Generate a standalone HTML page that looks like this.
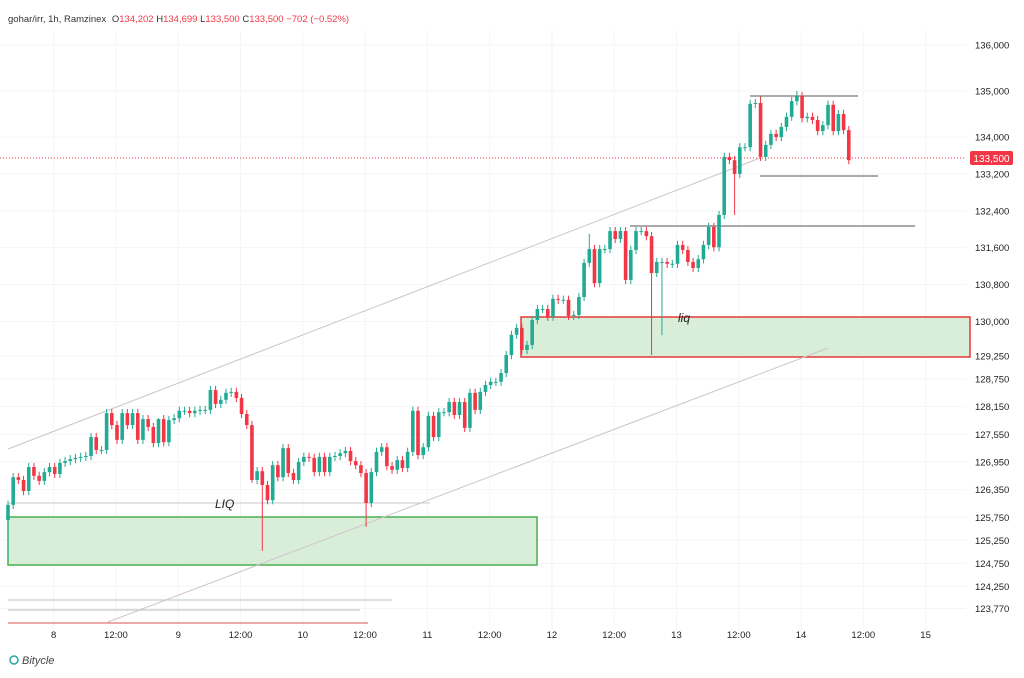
<!DOCTYPE html>
<html><head><meta charset="utf-8">
<style>
html,body{margin:0;padding:0;background:#fff;}
body{width:1024px;height:673px;overflow:hidden;font-family:"Liberation Sans",sans-serif;}
svg text{font-family:"Liberation Sans",sans-serif;}
</style></head>
<body>
<svg id="chart" width="1024" height="673" viewBox="0 0 1024 673" xmlns="http://www.w3.org/2000/svg">
  <g id="grid"></g>
  <g id="drawings-back">
    <rect x="8" y="517" width="529" height="48" fill="#d8eed9" stroke="#4caf50" stroke-width="1.5"/>
    <rect x="521" y="317" width="449" height="40" fill="#d8eed9" stroke="#e53935" stroke-width="1.5"/>
    <line x1="8" y1="449" x2="760" y2="158" stroke="#cfc3cc" stroke-width="1"/>
    <line x1="108" y1="622" x2="828" y2="348" stroke="#cfc3cc" stroke-width="1"/>
    <line x1="8" y1="503" x2="430" y2="503" stroke="#c8c8c8" stroke-width="1"/>
    <text x="215" y="508" font-size="12" font-style="italic" fill="#222">LIQ</text>
    <text x="678" y="322" font-size="12" font-style="italic" fill="#222">liq</text>
    <line x1="8" y1="600" x2="392" y2="600" stroke="#b9c4bb" stroke-width="1"/>
    <line x1="8" y1="610" x2="360" y2="610" stroke="#b9b9b9" stroke-width="1"/>
    <line x1="8" y1="623" x2="368" y2="623" stroke="#e57373" stroke-width="1.2"/>
    <line x1="630" y1="226" x2="915" y2="226" stroke="#555" stroke-width="1"/>
    <line x1="750" y1="96" x2="858" y2="96" stroke="#555" stroke-width="1"/>
    <line x1="760" y1="176" x2="878" y2="176" stroke="#555" stroke-width="1"/>
    <line x1="0" y1="158" x2="966" y2="158" stroke="#f23645" stroke-width="1" stroke-dasharray="1,2"/>
  </g>
  <g id="candles"></g>
  <g id="yaxis"></g>
  <g id="xaxis"></g>
  <rect x="970" y="151" width="43" height="14" rx="2" fill="#f23645"/>
  <text x="991.5" y="162" font-size="10" fill="#fff" text-anchor="middle">133,500</text>
  <text x="8" y="22" font-size="9.5" fill="#333">gohar/irr, 1h, Ramzinex <tspan dx="3">O</tspan><tspan fill="#f23645">134,202</tspan> H<tspan fill="#f23645">134,699</tspan> L<tspan fill="#f23645">133,500</tspan> C<tspan fill="#f23645">133,500</tspan> <tspan fill="#f23645">−702 (−0.52%)</tspan></text>
  <g>
    <circle cx="14" cy="660" r="4" fill="none" stroke="#2aa6a0" stroke-width="1.5"/>
    <text x="22" y="664" font-size="11" font-style="italic" fill="#444">Bitycle</text>
  </g>
</svg>
<script>
const closes=[126020,126620,126560,126320,126840,126650,126540,126730,126840,126690,126930,126970,127010,127040,127060,127080,127490,127210,127210,128010,127750,127430,128010,127750,128010,127430,127880,127710,127360,127880,127380,127860,127900,128060,128060,128010,128060,128080,128080,128510,128210,128300,128450,128470,128340,127990,127750,126560,126750,126450,126120,126880,126620,127250,126710,126560,126950,127060,127040,126730,127060,126730,127060,127080,127140,127190,126970,126880,126710,126060,126730,127170,127270,126860,126780,126990,126820,127170,128060,127100,127270,127950,127490,128030,128030,128250,127970,128250,127690,128450,128080,128470,128620,128690,128690,128880,129270,129710,129860,129380,129490,130030,130270,130270,130100,130490,130470,130470,130120,130140,130530,131270,131570,130830,131570,131570,131960,131790,131960,130900,131550,131960,131960,131850,131050,131290,131290,131250,131250,131660,131550,131290,131160,131350,131660,132050,131610,132310,133570,133500,133200,133780,133780,134720,134740,133570,133830,134070,134000,134220,134440,134780,134890,134410,134440,134370,134130,134260,134700,134130,134500,134150,133500];
const firstOpen=125690;
const wickIndex=[0,47,49,69,124,126,140,152,145,29,112];
const wickHigh=[null,null,null,null,null,null,null,135000,134880,127900,131900];
const wickLow=[124820,126500,125020,125540,129270,129700,132310,null,null,null,null];
const wickDefault=90;
const yTickValues=[136000,135000,134000,133200,132400,131600,130800,130000,129250,128750,128150,127550,126950,126350,125750,125250,124750,124250,123770];
const xTickLabels=["8","12:00","9","12:00","10","12:00","11","12:00","12","12:00","13","12:00","14","12:00","15"];
const firstTickHour=8.8;
const hoursPerTick=12;

const NS="http://www.w3.org/2000/svg";
function y(p){return 91+(135000-p)/21.7;}
function x(i){return 8+i*5.19;}
function mk(tag,attrs,parent){const e=document.createElementNS(NS,tag);for(const k in attrs)e.setAttribute(k,attrs[k]);parent.appendChild(e);return e;}

const grid=document.getElementById('grid');
const ya=document.getElementById('yaxis');
yTickValues.forEach(v=>{
  const yy=y(v);
  const gl=mk('line',{x1:0,x2:966,y1:yy,y2:yy,stroke:'#f4f5f8','stroke-width':1},grid);
  
  
  const t=mk('text',{x:975,y:yy+3.5,'font-size':9.5,fill:'#222'},ya);
  
  
  t.textContent=v.toLocaleString('en-US');
});
const xa=document.getElementById('xaxis');
xTickLabels.forEach((lab,k)=>{
  const xx=x(firstTickHour+k*hoursPerTick);
  const gl=mk('line',{x1:xx,x2:xx,y1:30,y2:630,stroke:'#f4f5f8','stroke-width':1},grid);
  
  
  const t=mk('text',{x:xx,y:638,'font-size':9.5,fill:'#222','text-anchor':'middle'},xa);
  
  
  t.textContent=lab;
});

const cg=document.getElementById('candles');
closes.forEach((c,i)=>{
  const o=i===0?firstOpen:closes[i-1];
  let hi=Math.max(o,c)+wickDefault, lo=Math.min(o,c)-wickDefault;
  const wi=wickIndex.indexOf(i);
  if(wi>=0){ if(wickHigh[wi]!==null)hi=wickHigh[wi]; if(wickLow[wi]!==null)lo=wickLow[wi]; }
  const up=c>=o;
  const col=up?'#22ab94':'#f23645';
  const xx=x(i);
  const g=mk('g',{},cg);
  
  
  mk('line',{x1:xx,x2:xx,y1:y(hi),y2:y(lo),stroke:col,'stroke-width':1},g);
  const top=y(Math.max(o,c)),bot=y(Math.min(o,c));
  mk('rect',{x:xx-1.8,y:top,width:3.6,height:Math.max(1,bot-top),fill:col},g);
});
</script>
</body></html>
